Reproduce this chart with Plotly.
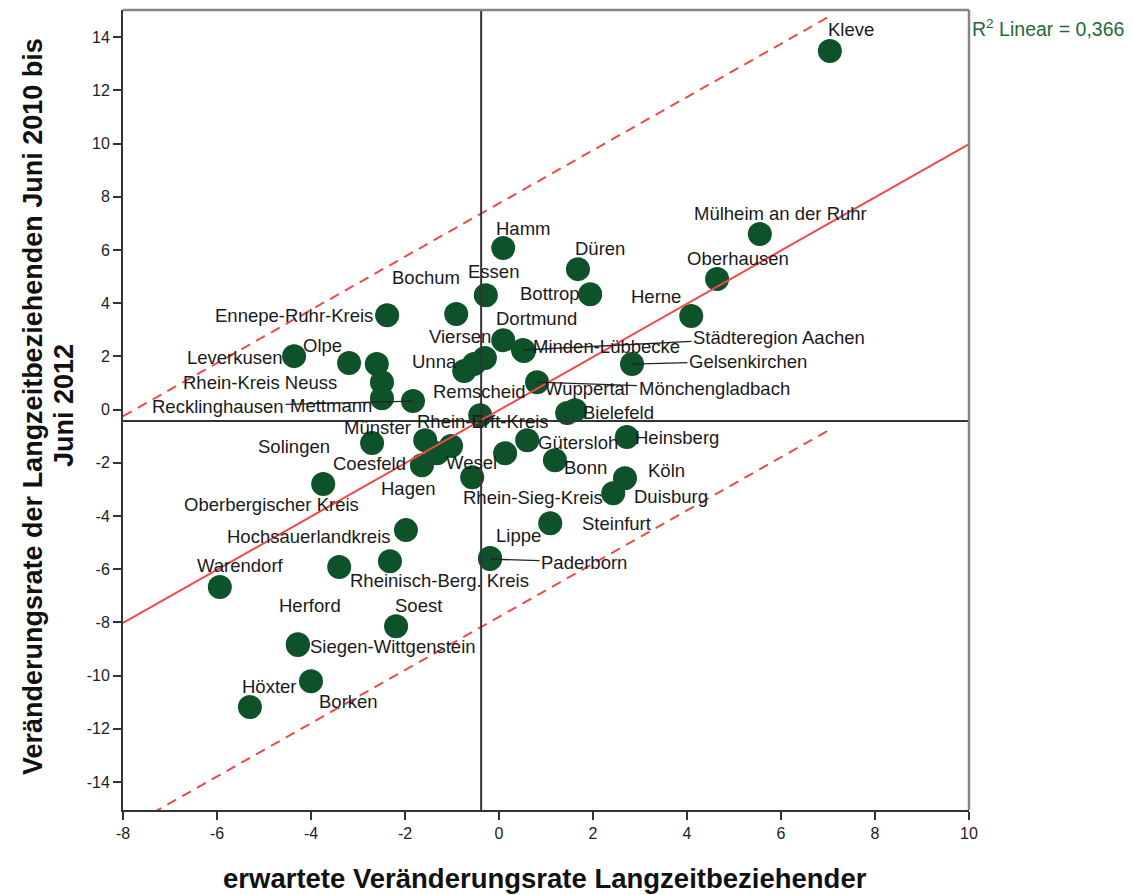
import plotly.graph_objects as go

# Districts (Kreise / kreisfreie Städte); "" = point drawn without a label
districts = [
    "Kleve", "Mülheim an der Ruhr", "Oberhausen", "Herne", "Städteregion Aachen",
    "Hamm", "Düren", "Bottrop", "Essen", "Bochum", "Ennepe-Ruhr-Kreis", "Dortmund",
    "Minden-Lübbecke", "Viersen", "", "Unna", "Mönchengladbach", "Gelsenkirchen",
    "Leverkusen", "Olpe", "", "Rhein-Kreis Neuss", "Mettmann", "Recklinghausen",
    "Remscheid", "Rhein-Erft-Kreis", "Münster", "Coesfeld", "Hagen", "Solingen",
    "Wesel", "Rhein-Sieg-Kreis", "Gütersloh", "Bonn", "Wuppertal", "Bielefeld",
    "Heinsberg", "Köln", "Duisburg", "Steinfurt", "Lippe", "Paderborn",
    "Oberbergischer Kreis", "Hochsauerlandkreis", "", "Rheinisch-Berg. Kreis",
    "Warendorf", "Soest", "Herford", "Siegen-Wittgenstein", "Borken", "Höxter",
]

# expected change rate of long-term recipients (x)
expected_rate = [
    7.04, 5.55, 4.64, 4.09, 0.51, 0.09, 1.68, 1.94, -0.28, -0.91, -2.38, 0.09,
    0.53, -0.30, -0.53, -0.74, 0.81, 2.83, -4.36, -3.19, -2.60, -2.49, -2.49, -1.83,
    -0.40, -1.02, -1.57, -1.32, -1.64, -2.70, 0.13, -0.57, 0.60, 1.19, 1.45, 1.62,
    2.72, 2.68, 2.43, 1.09, -0.19, -0.19, -3.74, -1.98, -3.40, -2.32, -5.94, -2.19,
    -4.28, -4.28, -4.00, -5.30,
]

# observed change rate June 2010 - June 2012 (y)
observed_rate = [
    13.48, 6.60, 4.91, 3.52, 2.24, 6.07, 5.28, 4.34, 4.30, 3.59, 3.55, 2.61,
    2.20, 1.94, 1.71, 1.45, 1.03, 1.71, 2.01, 1.75, 1.71, 1.03, 0.43, 0.32,
    -0.21, -1.37, -1.15, -1.64, -2.09, -1.26, -1.64, -2.54, -1.15, -1.90, -0.13, -0.02,
    -1.03, -2.58, -3.14, -4.27, -5.58, -5.62, -2.80, -4.53, -5.92, -5.70, -6.67, -8.14,
    -8.82, -8.85, -10.21, -11.18,
]

# reference lines (overall rates) and linear fit
ref_x = -0.38
ref_y = -0.43
fit_intercept = -0.02
fit_slope = 1.0
interval_half_width = 7.77
r_squared = "0,366"

x_ticks = list(range(-8, 11, 2))
y_ticks = list(range(-14, 15, 2))
x_tick_text = [str(v) for v in x_ticks]
y_tick_text = [str(v) for v in y_ticks]

# label placement: offset of label centre from the marker, in pixels (right, down)
label_offset = {
    "Kleve": (21, -21), "Mülheim an der Ruhr": (21, -21), "Oberhausen": (21, -20),
    "Herne": (-35, -19), "Städteregion Aachen": (256, -13), "Hamm": (20, -20),
    "Düren": (22, -21), "Bottrop": (-40, -1), "Essen": (8, -24), "Bochum": (-30, -37),
    "Ennepe-Ruhr-Kreis": (-93, 0), "Dortmund": (33, -22), "Minden-Lübbecke": (83, -5),
    "Viersen": (-25, -21), "Unna": (-30, -10), "Mönchengladbach": (177, 6),
    "Gelsenkirchen": (116, -3), "Leverkusen": (-59, 1), "Olpe": (-27, -18),
    "Rhein-Kreis Neuss": (-122, 0), "Mettmann": (-51, 7), "Recklinghausen": (-195, 5),
    "Remscheid": (-1, -24), "Rhein-Erft-Kreis": (32, -25), "Münster": (-48, -13),
    "Coesfeld": (-67, 10), "Hagen": (-13, 23), "Solingen": (-78, 3), "Wesel": (-34, 9),
    "Rhein-Sieg-Kreis": (61, 20), "Gütersloh": (51, 2), "Bonn": (31, 7),
    "Wuppertal": (20, -25), "Bielefeld": (43, 2), "Heinsberg": (50, 0), "Köln": (42, -8),
    "Duisburg": (58, 3), "Steinfurt": (66, 0), "Lippe": (28, -23), "Paderborn": (94, 3),
    "Oberbergischer Kreis": (-52, 20), "Hochsauerlandkreis": (-97, 6),
    "Rheinisch-Berg. Kreis": (50, 19), "Warendorf": (21, -22), "Soest": (22, -21),
    "Herford": (12, -39), "Siegen-Wittgenstein": (95, 1), "Borken": (37, 20),
    "Höxter": (20, -21),
}
with_leader = {"Städteregion Aachen", "Mönchengladbach", "Gelsenkirchen",
               "Paderborn", "Recklinghausen"}

X_RANGE = [-8, 10]
Y_RANGE = [-15.05, 15.02]

GREEN = "#0d5229"
RED = "#f24848"
LABEL_FONT = dict(family="Liberation Sans, Arial, sans-serif", size=18.5, color="#1a1a1a")
TITLE_FONT = dict(family="Liberation Sans, Arial, sans-serif", size=27, color="#111111",
                  weight="bold")

fig = go.Figure()

fig.add_trace(go.Scatter(
    x=expected_rate, y=observed_rate, mode="markers",
    marker=dict(size=24, color=GREEN, line=dict(width=0)),
    hovertext=districts, showlegend=False,
))

# linear fit across the whole axis
fit_x = [X_RANGE[0], X_RANGE[1]]
fig.add_trace(go.Scatter(
    x=fit_x, y=[fit_intercept + fit_slope * v for v in fit_x], mode="lines",
    line=dict(color=RED, width=2), showlegend=False, hoverinfo="skip",
))

# prediction interval bounds
band_x = [X_RANGE[0], max(expected_rate)]
for sign in (1, -1):
    fig.add_trace(go.Scatter(
        x=band_x,
        y=[fit_intercept + fit_slope * v + sign * interval_half_width for v in band_x],
        mode="lines", line=dict(color=RED, width=2, dash="10px,7px"),
        showlegend=False, hoverinfo="skip",
    ))

# reference cross
fig.add_shape(type="line", xref="x", yref="paper", x0=ref_x, x1=ref_x, y0=0, y1=1,
              line=dict(color="#333333", width=2))
fig.add_shape(type="line", xref="paper", yref="y", x0=0, x1=1, y0=ref_y, y1=ref_y,
              line=dict(color="#333333", width=2))

# top and right frame
fig.add_shape(type="line", xref="paper", yref="paper", x0=0, x1=1, y0=1, y1=1,
              line=dict(color="#858585", width=2.5))
fig.add_shape(type="line", xref="paper", yref="paper", x0=1, x1=1, y0=0, y1=1,
              line=dict(color="#858585", width=2.5))

annotations = []
for name, xv, yv in zip(districts, expected_rate, observed_rate):
    if not name:
        continue
    dx, dy = label_offset[name]
    if name in with_leader:
        annotations.append(dict(
            x=xv, y=yv, xref="x", yref="y", text=name, showarrow=True,
            ax=dx, ay=dy, axref="pixel", ayref="pixel", arrowhead=0, arrowwidth=1.3,
            arrowcolor="#222222", standoff=0, startstandoff=0, font=LABEL_FONT,
        ))
    else:
        annotations.append(dict(
            x=xv, y=yv, xref="x", yref="y", text=name, showarrow=False,
            xshift=dx, yshift=-dy, xanchor="center", yanchor="middle", font=LABEL_FONT,
        ))

annotations.append(dict(
    x=1.001, y=0.9775, xref="paper", yref="paper", xanchor="left", yanchor="middle",
    text=f"R<sup>2</sup> Linear = {r_squared}", showarrow=False,
    font=dict(family="Liberation Sans, Arial, sans-serif", size=19.5, color="#1f6a3a"),
))

annotations.append(dict(
    x=0.4988, y=-0.0862, xref="paper", yref="paper", xanchor="center", yanchor="middle",
    text="erwartete Veränderungsrate Langzeitbeziehender", showarrow=False,
    font=dict(TITLE_FONT, size=27.5),
))
annotations.append(dict(
    x=-0.1064, y=0.505, xref="paper", yref="paper", xanchor="center", yanchor="middle",
    text="Veränderungsrate der Langzeitbeziehenden Juni 2010 bis", textangle=-90,
    showarrow=False, font=TITLE_FONT,
))
annotations.append(dict(
    x=-0.0697, y=0.505, xref="paper", yref="paper", xanchor="center", yanchor="middle",
    text="Juni 2012", textangle=-90, showarrow=False, font=TITLE_FONT,
))

axis_common = dict(
    showgrid=False, zeroline=False, showline=True, linecolor="#333333", linewidth=2,
    ticks="outside", ticklen=8, tickwidth=1.5, tickcolor="#333333",
    tickfont=dict(family="Liberation Sans, Arial, sans-serif", size=16, color="#222222"),
)

fig.update_layout(
    width=1133, height=895,
    margin=dict(l=123, r=164, t=10, b=85),
    paper_bgcolor="white", plot_bgcolor="white",
    xaxis=dict(axis_common, range=X_RANGE, tickvals=x_ticks, ticktext=x_tick_text),
    yaxis=dict(axis_common, range=Y_RANGE, tickvals=y_ticks, ticktext=y_tick_text),
    annotations=annotations,
    showlegend=False,
)

fig.write_html("out.html")
